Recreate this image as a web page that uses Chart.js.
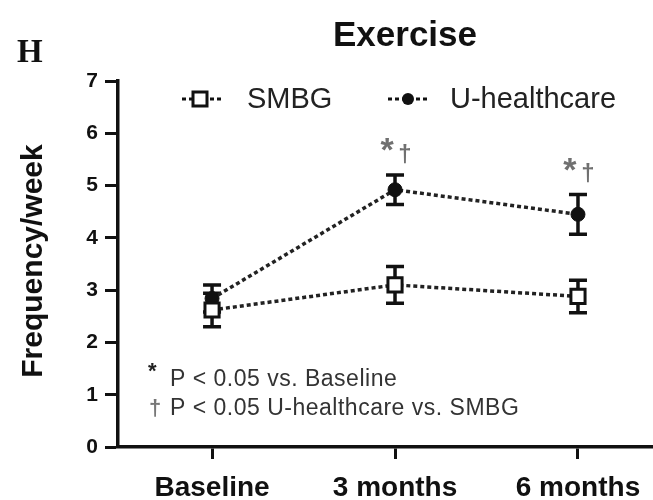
<!DOCTYPE html>
<html><head><meta charset="utf-8">
<script src="https://cdn.jsdelivr.net/npm/chart.js@4.4.1/dist/chart.umd.min.js"></script>
<style>html,body{margin:0;padding:0;background:#fff;}#wrap{width:653px;height:500px;position:relative}</style>
</head><body><div id="wrap"><canvas id="c" width="653" height="500"></canvas></div>
<script>
// ---- data ----
const categories = ['Baseline', '3 months', '6 months'];
const smbgMean = [2.62, 3.10, 2.88];
const smbgErr  = [0.32, 0.35, 0.31];
const uhcMean  = [2.84, 4.92, 4.45];
const uhcErr   = [0.26, 0.28, 0.38];
const yTicks = [0, 1, 2, 3, 4, 5, 6, 7];
const sigVsBaseline = [false, true, true];
const sigVsSMBG     = [false, true, true];
const seriesNames = ['SMBG', 'U-healthcare'];
const titleText = 'Exercise';
const panelLetter = 'H';
const yAxisTitle = 'Frequency/week';
const footSymbols = ['*', '†'];
const footTexts = ['P < 0.05 vs. Baseline', 'P < 0.05 U-healthcare vs. SMBG'];

const SANS = '"Liberation Sans", Arial, Helvetica, sans-serif';
const INK = '#111';

function pts(means){ return means.map((v,i)=>({x:i, y:v})); }

const errorBars = {
  id: 'errorBars',
  beforeDatasetsDraw(chart){
    const {ctx, scales:{x, y}} = chart;
    chart.data.datasets.forEach(ds => {
      ds.data.forEach((p, i) => {
        const e = ds.errors[i];
        const px = x.getPixelForValue(p.x);
        const t = y.getPixelForValue(p.y + e);
        const b = y.getPixelForValue(p.y - e);
        ctx.save();
        ctx.strokeStyle = INK; ctx.lineWidth = 3.5;
        ctx.beginPath();
        ctx.moveTo(px, t); ctx.lineTo(px, b);
        ctx.moveTo(px - 9, t); ctx.lineTo(px + 9, t);
        ctx.moveTo(px - 9, b); ctx.lineTo(px + 9, b);
        ctx.stroke();
        ctx.restore();
      });
    });
  }
};

const decorations = {
  id: 'decorations',
  afterDraw(chart){
    const {ctx, scales:{x, y}} = chart;
    ctx.save();
    // panel letter
    ctx.fillStyle = INK;
    ctx.font = 'bold 33px "Liberation Serif", "Times New Roman", serif';
    ctx.textBaseline = 'alphabetic'; ctx.textAlign = 'left';
    ctx.fillText(panelLetter, 17, 62);
    // title
    ctx.font = 'bold 35px ' + SANS;
    ctx.textAlign = 'center';
    ctx.fillText(titleText, 405, 46);
    // y axis title
    ctx.save();
    ctx.translate(34, 261);
    ctx.rotate(-Math.PI/2);
    ctx.font = 'bold 30px ' + SANS;
    ctx.textAlign = 'center'; ctx.textBaseline = 'middle';
    ctx.fillText(yAxisTitle, 0, 0);
    ctx.restore();

    // legend
    const legendItems = [
      {ds: chart.data.datasets[0], x0: 182, mx: 200, x1: 221, tx: 247},
      {ds: chart.data.datasets[1], x0: 388, mx: 408, x1: 429, tx: 450}
    ];
    const ly = 99;
    legendItems.forEach(it => {
      ctx.strokeStyle = INK; ctx.lineWidth = 3;
      ctx.setLineDash([4, 3]);
      ctx.beginPath(); ctx.moveTo(it.x0, ly); ctx.lineTo(it.x1, ly); ctx.stroke();
      ctx.setLineDash([]);
      ctx.beginPath();
      if (it.ds.pointStyle === 'rect') {
        ctx.fillStyle = '#fff'; ctx.strokeStyle = INK; ctx.lineWidth = 3;
        ctx.rect(it.mx - 7, ly - 7, 14, 14); ctx.fill(); ctx.stroke();
      } else {
        ctx.arc(it.mx, ly, 6, 0, Math.PI*2); ctx.fillStyle = INK; ctx.fill();
      }
      ctx.fillStyle = '#222';
      ctx.font = '29px ' + SANS;
      ctx.textAlign = 'left'; ctx.textBaseline = 'alphabetic';
      ctx.fillText(it.ds.label, it.tx, 108);
    });

    // significance marks
    ctx.fillStyle = '#707070';
    categories.forEach((c, i) => {
      const px = x.getPixelForValue(i);
      const top = y.getPixelForValue(uhcMean[i] + uhcErr[i]) - 31;
      if (sigVsBaseline[i]) {
        ctx.font = 'bold 34px ' + SANS; ctx.textAlign = 'center'; ctx.textBaseline = 'middle';
        ctx.fillText('*', px - 8, top + 8);
      }
      if (sigVsSMBG[i]) {
        ctx.font = 'bold 24px ' + SANS; ctx.textAlign = 'center'; ctx.textBaseline = 'middle';
        ctx.fillText('†', px + 10, top + 11);
      }
    });

    // footnotes
    ctx.textAlign = 'left'; ctx.textBaseline = 'alphabetic';
    ctx.fillStyle = '#222';
    ctx.font = 'bold 22px ' + SANS;
    ctx.fillText(footSymbols[0], 148, 378);
    ctx.fillStyle = '#777';
    ctx.font = 'bold 22px ' + SANS;
    ctx.fillText(footSymbols[1], 149, 415);
    ctx.fillStyle = '#333';
    ctx.font = '23px ' + SANS;
    try { ctx.letterSpacing = '0.5px'; } catch(e) {}
    ctx.fillText(footTexts[0], 170, 386);
    ctx.fillText(footTexts[1], 170, 415);
    try { ctx.letterSpacing = '0px'; } catch(e) {}
    ctx.restore();
  }
};

new Chart(document.getElementById('c'), {
  type: 'line',
  data: {
    datasets: [
      {
        label: seriesNames[0], data: pts(smbgMean), errors: smbgErr,
        borderColor: '#222', borderWidth: 3.5, borderDash: [4, 3],
        pointStyle: 'rect', pointRadius: 10, pointBorderWidth: 3,
        pointBackgroundColor: '#fff', pointBorderColor: INK,
        tension: 0, fill: false
      },
      {
        label: seriesNames[1], data: pts(uhcMean), errors: uhcErr,
        borderColor: '#222', borderWidth: 3.5, borderDash: [4, 3],
        pointStyle: 'circle', pointRadius: 7, pointBorderWidth: 1,
        pointBackgroundColor: INK, pointBorderColor: INK,
        tension: 0, fill: false
      }
    ]
  },
  options: {
    responsive: false, animation: false, devicePixelRatio: 1,
    layout: { autoPadding: false, padding: { top: 81, right: 0, bottom: 0, left: 0 } },
    plugins: { legend: { display: false }, tooltip: { enabled: false }, title: { display: false } },
    scales: {
      x: {
        type: 'linear', min: -0.514, max: 2.41,
        afterBuildTicks: s => { s.ticks = categories.map((c, i) => ({ value: i })); },
        afterFit: s => { s.height = 53; s.paddingLeft = 0; s.paddingRight = 0; },
        ticks: {
          callback: v => categories[v], autoSkip: false, maxRotation: 0,
          font: { family: SANS, size: 28, weight: 'bold' }, color: INK, padding: 12
        },
        grid: { drawOnChartArea: false, drawTicks: true, tickLength: 12, tickWidth: 3, tickColor: INK },
        border: { color: INK, width: 3.5 }
      },
      y: {
        min: 0, max: 7,
        afterBuildTicks: s => { s.ticks = yTicks.map(v => ({ value: v })); },
        afterFit: s => { s.width = 118; s.paddingTop = 0; s.paddingBottom = 0; },
        ticks: { font: { family: SANS, size: 21, weight: 'bold' }, color: INK, padding: 7 },
        grid: { drawOnChartArea: false, drawTicks: true, tickLength: 13, tickWidth: 3, tickColor: INK },
        border: { color: INK, width: 3.5 }
      }
    }
  },
  plugins: [errorBars, decorations]
});
</script>
</body></html>
